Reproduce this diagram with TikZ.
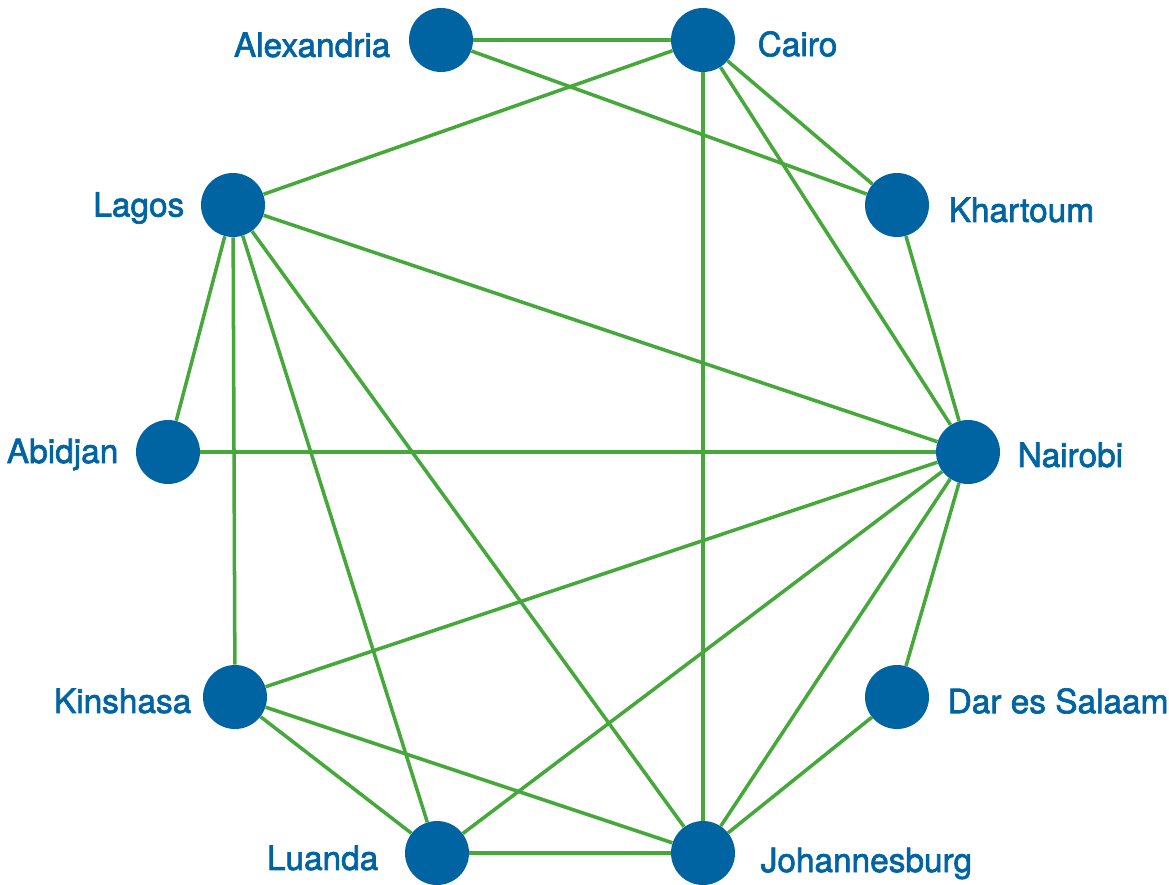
\documentclass[tikz,border=0pt]{standalone}
\usepackage{fontspec}
\setmainfont{TeX Gyre Heros}[FakeBold=2]
\usepackage{xcolor}
\usepackage{tikz}
\usetikzlibrary{positioning}

\definecolor{cityblue}{HTML}{0064A3}
\definecolor{roadgreen}{HTML}{46A83A}

\tikzset{
  city/.style={circle,fill=cityblue,minimum size=1.28cm,inner sep=0pt},
  cityname/.style={text=cityblue,font=\fontsize{19}{21}\selectfont,inner sep=0pt},
  road/.style={roadgreen,line width=2pt}
}

\begin{document}
\begin{tikzpicture}[x=0.02cm,y=-0.02cm]
\useasboundingbox (0,0) rectangle (1169,885);

% Cities
\node[city] (alex) at (441,40) {};
\node[city] (cairo) at (703,40) {};
\node[city] (khart) at (897,205) {};
\node[city] (nair) at (968,452) {};
\node[city] (dar) at (897,697) {};
\node[city] (joburg) at (703,853) {};
\node[city] (luanda) at (437,853) {};
\node[city] (kin) at (235,697) {};
\node[city] (abid) at (168,452) {};
\node[city] (lagos) at (233,205) {};

% Names
\node[cityname,anchor=east] at ([xshift=-0.36cm,yshift=-0.1cm]alex.west) {Alexandria};
\node[cityname,anchor=west] at ([xshift=0.44cm,yshift=-0.08cm]cairo.east) {Cairo};
\node[cityname,anchor=west] at ([xshift=0.38cm,yshift=-0.1cm]khart.east) {Khartoum};
\node[cityname,anchor=west] at ([xshift=0.34cm,yshift=-0.06cm]nair.east) {Nairobi};
\node[cityname,anchor=west] at ([xshift=0.36cm,yshift=-0.08cm]dar.east) {Dar es Salaam};
\node[cityname,anchor=base west] at ([xshift=0.5cm,yshift=-0.38cm]joburg.east) {Johannesburg};
\node[cityname,anchor=east] at ([xshift=-0.52cm,yshift=-0.1cm]luanda.west) {Luanda};
\node[cityname,anchor=east] at ([xshift=-0.22cm,yshift=-0.08cm]kin.west) {Kinshasa};
\node[cityname,anchor=base east] at ([xshift=-0.34cm,yshift=-0.22cm]abid.west) {Abidjan};
\node[cityname,anchor=east] at ([xshift=-0.32cm,yshift=-0.06cm]lagos.west) {Lagos};

% Roads
\draw[road] (alex) -- (cairo);
\draw[road] (alex) -- (khart);
\draw[road] (cairo) -- (lagos);
\draw[road] (cairo) -- (khart);
\draw[road] (cairo) -- (nair);
\draw[road] (cairo) -- (joburg);
\draw[road] (khart) -- (nair);
\draw[road] (lagos) -- (nair);
\draw[road] (lagos) -- (abid);
\draw[road] (lagos) -- (kin);
\draw[road] (lagos) -- (luanda);
\draw[road] (lagos) -- (joburg);
\draw[road] (abid) -- (nair);
\draw[road] (nair) -- (kin);
\draw[road] (nair) -- (luanda);
\draw[road] (nair) -- (joburg);
\draw[road] (nair) -- (dar);
\draw[road] (dar) -- (joburg);
\draw[road] (kin) -- (luanda);
\draw[road] (kin) -- (joburg);
\draw[road] (luanda) -- (joburg);
\end{tikzpicture}
\end{document}
